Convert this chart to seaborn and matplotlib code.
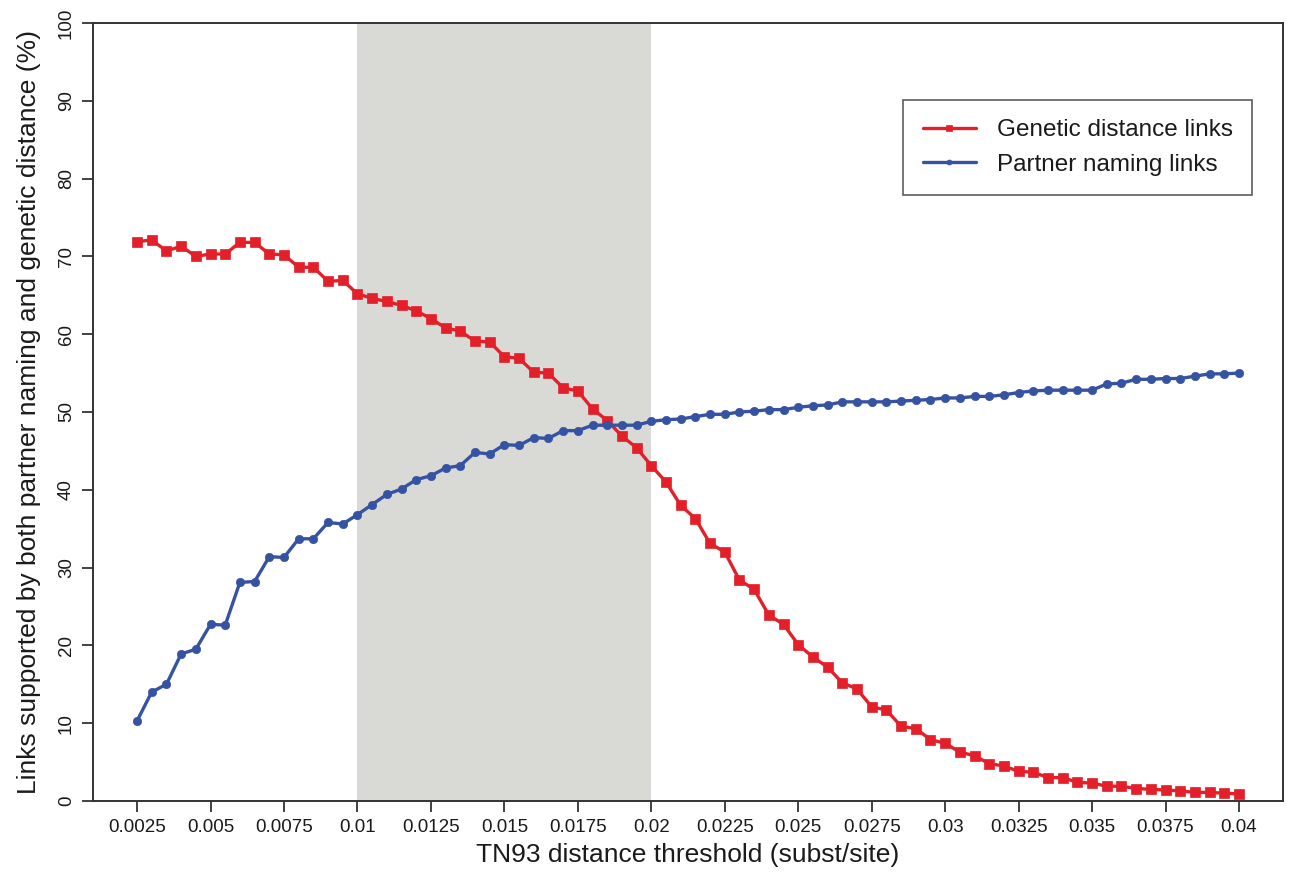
import matplotlib
matplotlib.use("Agg")
import matplotlib.pyplot as plt
import seaborn as sns
import pandas as pd

# TN93 thresholds 0.0025 .. 0.04 in steps of 0.0005 (76 values)
thresholds = [round(0.0025 + 0.0005 * i, 4) for i in range(76)]

genetic_links = [
    71.9, 72.1, 70.7, 71.3, 70.0, 70.3, 70.3, 71.8, 71.8, 70.3,
    70.2, 68.6, 68.6, 66.8, 66.9, 65.2, 64.6, 64.2, 63.7, 63.0,
    62.0, 60.8, 60.4, 59.1, 59.0, 57.1, 56.9, 55.1, 55.0, 53.1,
    52.7, 50.4, 48.9, 46.9, 45.4, 43.1, 41.0, 38.0, 36.3, 33.1,
    32.0, 28.4, 27.2, 23.9, 22.7, 20.1, 18.5, 17.2, 15.2, 14.4,
    12.1, 11.7, 9.6, 9.3, 7.9, 7.4, 6.3, 5.8, 4.8, 4.5,
    3.8, 3.7, 3.0, 3.0, 2.4, 2.3, 1.9, 1.9, 1.6, 1.5,
    1.4, 1.3, 1.1, 1.1, 1.0, 0.9,
]

partner_links = [
    10.3, 14.0, 15.0, 18.9, 19.5, 22.7, 22.6, 28.1, 28.2, 31.4,
    31.3, 33.7, 33.7, 35.8, 35.6, 36.8, 38.1, 39.4, 40.1, 41.3,
    41.8, 42.8, 43.1, 44.8, 44.6, 45.8, 45.7, 46.7, 46.6, 47.6,
    47.6, 48.3, 48.3, 48.3, 48.3, 48.8, 49.0, 49.1, 49.4, 49.7,
    49.7, 50.0, 50.1, 50.3, 50.3, 50.6, 50.8, 50.9, 51.3, 51.3,
    51.3, 51.3, 51.4, 51.5, 51.6, 51.8, 51.8, 52.0, 52.0, 52.2,
    52.5, 52.7, 52.8, 52.8, 52.8, 52.8, 53.6, 53.7, 54.2, 54.2,
    54.3, 54.3, 54.6, 54.9, 54.9, 55.0,
]

x_ticks = [0.0025 * k for k in range(1, 17)]
x_tick_labels = ["0.0025", "0.005", "0.0075", "0.01", "0.0125", "0.015", "0.0175", "0.02",
                 "0.0225", "0.025", "0.0275", "0.03", "0.0325", "0.035", "0.0375", "0.04"]
y_ticks = list(range(0, 101, 10))
shaded_range = (0.01, 0.02)

df = pd.DataFrame({
    "threshold": thresholds,
    "genetic": genetic_links,
    "partner": partner_links,
})

sns.set_style("ticks")
plt.rcParams["font.family"] = ["Liberation Sans", "DejaVu Sans"]

RED = "#e3202a"
BLUE = "#3552a3"
GREY = "#d9d9d5"
AXIS = "#333333"
TEXT = "#1a1a1a"

fig = plt.figure(figsize=(12.93, 8.8), dpi=100)
ax = fig.add_axes([0.0719, 0.0898, 0.9204, 0.8841])

ax.axvspan(shaded_range[0], shaded_range[1], color=GREY, zorder=0, lw=0)

sns.lineplot(data=df, x="threshold", y="genetic", ax=ax, color=RED, linewidth=2.4,
             marker="s", markersize=6.8, markeredgecolor=RED, markeredgewidth=0.5,
             label="Genetic distance links", zorder=3)
sns.lineplot(data=df, x="threshold", y="partner", ax=ax, color=BLUE, linewidth=2.4,
             marker="o", markersize=6, markeredgecolor=BLUE, markeredgewidth=0.5,
             label="Partner naming links", zorder=3)

ax.set_xlim(0.001, 0.0415)
ax.set_ylim(0, 100)
ax.set_xticks(x_ticks)
ax.set_xticklabels(x_tick_labels)
ax.set_yticks(y_ticks)
for lbl in ax.get_yticklabels():
    lbl.set_rotation(90)
    lbl.set_va("center")

ax.tick_params(axis="both", direction="out", length=8, width=1.3, color=AXIS,
               labelsize=13.5, labelcolor=TEXT)
ax.tick_params(axis="x", pad=5)
ax.tick_params(axis="y", pad=5)
for sp in ax.spines.values():
    sp.set_color(AXIS)
    sp.set_linewidth(1.4)
    sp.set_visible(True)

ax.set_xlabel("TN93 distance threshold (subst/site)", fontsize=19, color=TEXT, labelpad=5)
ax.set_ylabel("Links supported by both partner naming and genetic distance (%)",
              fontsize=19, color=TEXT, labelpad=12)

leg = ax.legend(loc="upper right", bbox_to_anchor=(0.974, 0.901), borderaxespad=0,
                fontsize=17.5, frameon=True, fancybox=False, edgecolor=AXIS,
                handlelength=2.2, handletextpad=0.85, borderpad=0.8, labelspacing=0.5,
                markerscale=0.6, labelcolor=TEXT)
leg.get_frame().set_linewidth(1.2)

fig.savefig("out.png", dpi=100)
